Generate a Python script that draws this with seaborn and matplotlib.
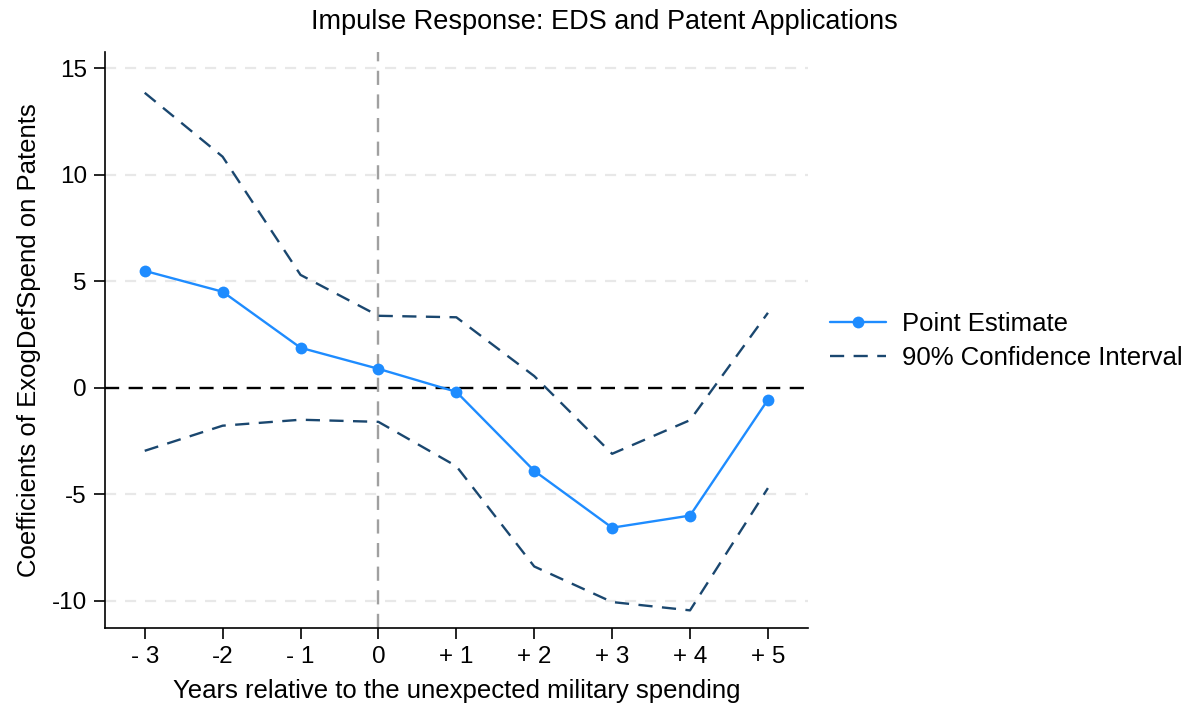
import numpy as np
import pandas as pd
import matplotlib
matplotlib.use("Agg")
import matplotlib.pyplot as plt
import seaborn as sns

# Event-time horizon and estimates
horizon = [-3, -2, -1, 0, 1, 2, 3, 4, 5]
tick_labels = ["- 3", "-2", "- 1", "0", "+ 1", "+ 2", "+ 3", "+ 4", "+ 5"]
point_estimate = [5.49, 4.51, 1.88, 0.89, -0.19, -3.90, -6.57, -6.00, -0.56]
ci_upper = [13.85, 10.85, 5.30, 3.38, 3.31, 0.55, -3.10, -1.52, 3.52]
ci_lower = [-2.96, -1.78, -1.50, -1.60, -3.68, -8.39, -10.06, -10.45, -4.71]

sns.set_theme(style="white")
plt.rcParams["font.family"] = ["Liberation Sans", "DejaVu Sans"]
plt.rcParams["text.color"] = "black"
plt.rcParams["axes.labelcolor"] = "black"
plt.rcParams["xtick.color"] = "black"
plt.rcParams["ytick.color"] = "black"

df = pd.DataFrame({"h": horizon, "est": point_estimate,
                   "hi": ci_upper, "lo": ci_lower})

fig = plt.figure(figsize=(11.93, 7.11), dpi=100)
ax = fig.add_axes([0.088, 0.117, 0.589, 0.81])

navy = "#1a476f"
blue = "#1e8cff"

# Reference lines and grid
for g in [-10, -5, 5, 10, 15]:
    ax.axhline(g, color="#e8e8e8", lw=1.6, ls=(0, (5, 4)), zorder=0)
ax.axhline(0, color="black", lw=1.7, ls=(0, (6, 4)), zorder=1)
ax.axvline(0, color="#a0a0a0", lw=1.7, ls=(0, (6, 4)), zorder=1)

sns.lineplot(data=df, x="h", y="hi", ax=ax, color=navy, lw=1.7, zorder=2)
ax.lines[-1].set_linestyle((0, (6, 4)))
sns.lineplot(data=df, x="h", y="lo", ax=ax, color=navy, lw=1.7, zorder=2)
ax.lines[-1].set_linestyle((0, (6, 4)))
ci_handle = ax.lines[-1]
sns.lineplot(data=df, x="h", y="est", ax=ax, color=blue, lw=1.7,
             marker="o", markersize=8.5, markeredgewidth=0, zorder=3)
pe_handle = ax.lines[-1]

ax.set_xlim(-3.51, 5.51)
ax.set_ylim(-11.27, 15.77)
ax.set_xticks(horizon)
ax.set_xticklabels(tick_labels)
ax.set_yticks([-10, -5, 0, 5, 10, 15])
ax.set_yticklabels(["-10", "-5", "0", "5", "10", "15"])

for s in ["top", "right"]:
    ax.spines[s].set_visible(False)
for s in ["left", "bottom"]:
    ax.spines[s].set_color("black")
    ax.spines[s].set_linewidth(1.2)

ax.tick_params(axis="both", which="major", direction="out", length=8,
               width=1.2, color="black", labelsize=17.5, pad=5,
               left=True, bottom=True)

ax.set_xlabel("Years relative to the unexpected military spending",
              fontsize=18.5, labelpad=8)
ax.set_ylabel("Coefficients of ExogDefSpend on Patents",
              fontsize=18.5, labelpad=8)
fig.suptitle("Impulse Response: EDS and Patent Applications",
             fontsize=19.5, x=0.507, y=0.987)

fig.legend([pe_handle, ci_handle], ["Point Estimate", "90% Confidence Interval"],
           loc="center left", bbox_to_anchor=(0.676, 0.52), frameon=False,
           fontsize=18.5, handlelength=2.2, handletextpad=0.6,
           labelspacing=0.4)

fig.savefig("out.png", dpi=100)
